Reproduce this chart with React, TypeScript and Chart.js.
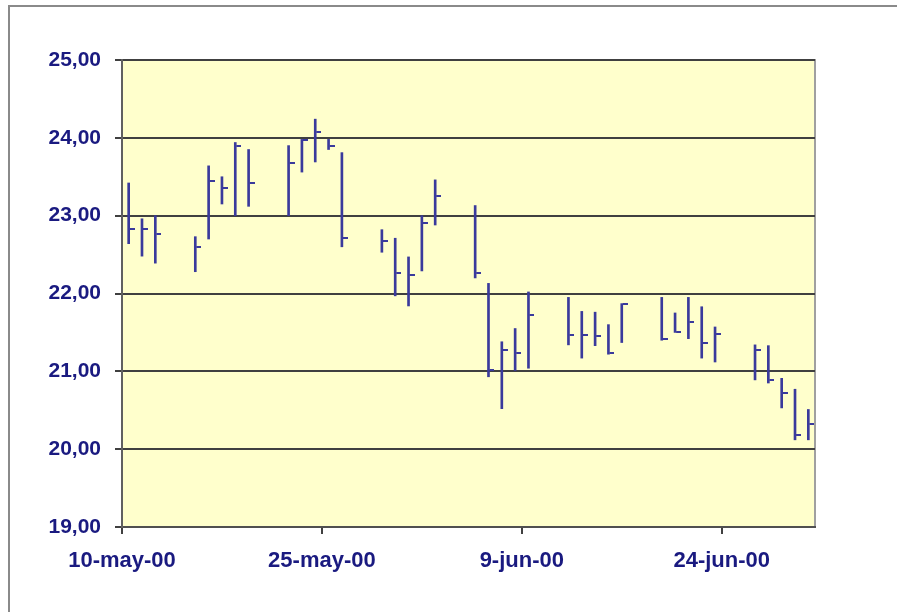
import React, { useEffect, useRef } from "react";
import { Chart, registerables } from "chart.js";

Chart.register(...registerables);

// Trading days as day index from 10-may-00 (0 = 10-may-00)
const dayIndex = [
  0, 1, 2,
  5, 6, 7, 8, 9,
  12, 13, 14, 15, 16,
  19, 20, 21, 22, 23,
  26, 27, 28, 29, 30,
  33, 34, 35, 36, 37,
  40, 41, 42, 43, 44,
  47, 48, 49, 50, 51,
];
const highs = [
  23.42, 22.96, 23.0,
  22.73, 23.64, 23.5, 23.94, 23.85,
  23.9, 23.98, 24.24, 23.98, 23.81,
  22.82, 22.71, 22.47, 23.0, 23.46,
  23.13, 22.13, 21.38, 21.55, 22.02,
  21.95, 21.77, 21.76, 21.6, 21.87,
  21.95, 21.75, 21.95, 21.83, 21.57,
  21.34, 21.33, 20.91, 20.77, 20.51,
];
const lows = [
  22.64, 22.48, 22.39,
  22.28, 22.7, 23.15, 23.0, 23.12,
  23.0, 23.56, 23.69, 23.85, 22.6,
  22.53, 21.97, 21.84, 22.29, 22.88,
  22.2, 20.93, 20.52, 21.01, 21.04,
  21.34, 21.17, 21.33, 21.22, 21.37,
  21.4, 21.5, 21.42, 21.17, 21.12,
  20.89, 20.85, 20.53, 20.12, 20.12,
];
const closes = [
  22.83, 22.83, 22.76,
  22.6, 23.45, 23.35, 23.89, 23.42,
  23.68, 23.97, 24.07, 23.89, 22.71,
  22.67, 22.26, 22.24, 22.9, 23.25,
  22.26, 21.02, 21.27, 21.23, 21.72,
  21.47, 21.47, 21.45, 21.23, 21.87,
  21.42, 21.51, 21.63, 21.36, 21.48,
  21.27, 20.89, 20.72, 20.18, 20.32,
];
const xTickPositions = [-0.5, 14.5, 29.5, 44.5];
const xTickLabels = ["10-may-00", "25-may-00", "9-jun-00", "24-jun-00"];
const yMin = 19;
const yMax = 25;

const BAR_COLOR = "#3a3a9c";
const LABEL_COLOR = "#1a1a80";
const FONT = "'Liberation Sans', Arial, sans-serif";

function makeCloseTick(): HTMLCanvasElement {
  const c = document.createElement("canvas");
  c.width = 12;
  c.height = 2;
  const ctx = c.getContext("2d")!;
  ctx.fillStyle = BAR_COLOR;
  ctx.fillRect(7, 0, 5, 2);
  return c;
}

const plotBg = {
  id: "plotBg",
  beforeDraw(chart: any) {
    const { ctx, chartArea } = chart;
    ctx.save();
    ctx.fillStyle = "#FFFFCC";
    ctx.fillRect(chartArea.left, chartArea.top, chartArea.right - chartArea.left, chartArea.bottom - chartArea.top);
    ctx.strokeStyle = "#a0a0a0";
    ctx.lineWidth = 2;
    ctx.strokeRect(chartArea.left, chartArea.top, chartArea.right - chartArea.left, chartArea.bottom - chartArea.top);
    ctx.restore();
  },
};

export default function App() {
  const ref = useRef<HTMLCanvasElement>(null);
  useEffect(() => {
    const tick = makeCloseTick();
    const chart = new Chart(ref.current!, {
      type: "bar",
      data: {
        datasets: [
          {
            type: "bar",
            data: dayIndex.map((d, i) => ({ x: d, y: [lows[i], highs[i]] })) as any,
            backgroundColor: BAR_COLOR,
            barThickness: 2,
            borderWidth: 0,
          } as any,
          {
            type: "scatter",
            data: dayIndex.map((d, i) => ({ x: d, y: closes[i] })),
            pointStyle: tick as any,
            pointRadius: 6,
            showLine: false,
          } as any,
        ],
      },
      options: {
        animation: false,
        responsive: false,
        maintainAspectRatio: false,
        layout: { padding: { top: 60, right: 82, left: 0, bottom: 0 } },
        plugins: { legend: { display: false }, tooltip: { enabled: false } },
        scales: {
          x: {
            type: "linear",
            min: -0.5,
            max: 51.5,
            offset: false,
            afterFit: (s: any) => {
              s.height = 85;
            },
            afterBuildTicks: (s: any) => {
              s.ticks = xTickPositions.map((v) => ({ value: v }));
            },
            ticks: {
              autoSkip: false,
              maxRotation: 0,
              padding: 14,
              color: LABEL_COLOR,
              font: { family: FONT, size: 22, weight: "bold" },
              callback: (v: any) => {
                const idx = xTickPositions.indexOf(Number(v));
                return idx >= 0 ? xTickLabels[idx] : "";
              },
            },
            grid: {
              offset: false,
              drawOnChartArea: false,
              drawTicks: true,
              tickLength: 7,
              color: "#404040",
              lineWidth: 2,
            },
            border: { color: "#505050", width: 2 },
          },
          y: {
            min: yMin,
            max: yMax,
            afterFit: (s: any) => {
              s.width = 122;
            },
            ticks: {
              stepSize: 1,
              padding: 14,
              color: LABEL_COLOR,
              font: { family: FONT, size: 21, weight: "bold" },
              callback: (v: any) => Number(v).toFixed(2).replace(".", ","),
            },
            grid: {
              color: "#404040",
              lineWidth: 2,
              tickLength: 7,
            },
            border: { color: "#606060", width: 2 },
          },
        },
      },
      plugins: [plotBg],
    });
    return () => chart.destroy();
  }, []);

  return (
    <div style={{ position: "fixed", left: 0, top: 0, width: 897, height: 612, background: "#ffffff", overflow: "hidden" }}>
      <div
        style={{
          position: "absolute",
          left: 8,
          top: 5,
          width: 1000,
          height: 700,
          borderLeft: "2px solid #8a8a8a",
          borderTop: "2px solid #8a8a8a",
        }}
      />
      <canvas ref={ref} width={897} height={612} style={{ position: "absolute", left: 0, top: 0 }} />
    </div>
  );
}
